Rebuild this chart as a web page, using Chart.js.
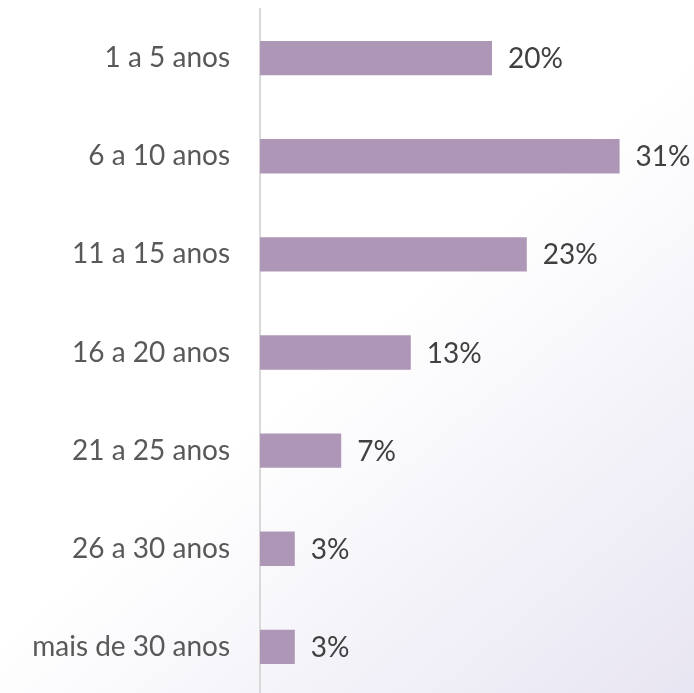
<!DOCTYPE html>
<html>
<head>
<meta charset="utf-8">
<script src="https://cdn.jsdelivr.net/npm/chart.js@4/dist/chart.umd.min.js"></script>
<style>
html,body{margin:0;padding:0;overflow:hidden;}
body{width:694px;height:693px;background:linear-gradient(140deg,#ffffff 0%,#ffffff 50%,#e8e5f2 100%);}
canvas{display:block;}
</style>
</head>
<body>
<canvas id="c" width="694" height="697"></canvas>
<script>
const categories = ["1 a 5 anos","6 a 10 anos","11 a 15 anos","16 a 20 anos","21 a 25 anos","26 a 30 anos","mais de 30 anos"];
const values = [20, 31, 23, 13, 7, 3, 3];
const valueLabels = ["20%","31%","23%","13%","7%","3%","3%"];

const FONT = "Lato, 'Open Sans', sans-serif";

const labelPlugin = {
  id: 'valueLabels',
  afterDatasetsDraw(chart) {
    const ctx = chart.ctx;
    const meta = chart.getDatasetMeta(0);
    ctx.save();
    ctx.font = "28px " + FONT;
    ctx.fillStyle = "#404040";
    ctx.textAlign = "left";
    ctx.textBaseline = "middle";
    meta.data.forEach((bar, i) => {
      ctx.fillText(valueLabels[i], bar.x + 16, bar.y + 1);
    });
    ctx.restore();
  }
};

new Chart(document.getElementById('c'), {
  type: 'bar',
  data: {
    labels: categories,
    datasets: [{
      data: values,
      backgroundColor: '#ae96b7',
      borderWidth: 0,
      categoryPercentage: 1,
      barPercentage: 0.35
    }]
  },
  options: {
    indexAxis: 'y',
    responsive: false,
    maintainAspectRatio: false,
    animation: false,
    layout: { padding: { top: 9, right: 28, bottom: 1, left: 0 } },
    plugins: { legend: { display: false }, tooltip: { enabled: false } },
    scales: {
      x: {
        display: false,
        min: 0,
        max: 35
      },
      y: {
        grid: { display: false, drawTicks: false },
        border: { color: '#d9d9d9', width: 2 },
        ticks: {
          font: { size: 28, family: FONT },
          color: '#595959',
          padding: 30
        },
        afterFit(scale) {
          scale.width = 260;
          scale.paddingTop = 0;
          scale.paddingBottom = 0;
        }
      }
    }
  },
  plugins: [labelPlugin]
});
</script>
</body>
</html>
